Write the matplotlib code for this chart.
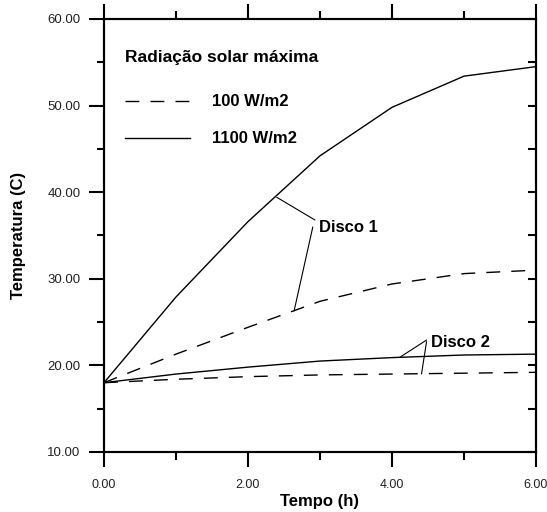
import matplotlib
matplotlib.use("Agg")
import matplotlib.pyplot as plt
from matplotlib.ticker import MultipleLocator, FormatStrFormatter

# ==========================
# Data
# ==========================
tempo = [0, 1, 2, 3, 4, 5, 6]
disco1_1100 = [18.0, 27.9, 36.6, 44.2, 49.8, 53.4, 54.5]
disco1_100 = [18.0, 21.3, 24.4, 27.4, 29.4, 30.6, 31.0]
disco2_1100 = [18.0, 19.0, 19.8, 20.5, 20.9, 21.2, 21.3]
disco2_100 = [18.0, 18.4, 18.7, 18.9, 19.0, 19.1, 19.2]

legend_title = "Radiação solar máxima"
legend_labels = ["100 W/m2", "1100 W/m2"]

plt.rcParams['font.family'] = ['Liberation Sans', 'DejaVu Sans']

# ==========================
# Figure
# ==========================
fig = plt.figure(figsize=(5.47, 5.12), dpi=100, facecolor="white")
ax = fig.add_axes([0.1901, 0.1172, 0.7898, 0.8457])

dash = (0, (10, 8))
l100, = ax.plot(tempo, disco1_100, color="black", lw=1.0, linestyle=dash)
l1100, = ax.plot(tempo, disco1_1100, color="black", lw=1.0)
ax.plot(tempo, disco2_100, color="black", lw=1.0, linestyle=dash)
ax.plot(tempo, disco2_1100, color="black", lw=1.0)

ax.set_xlim(0, 6)
ax.set_ylim(10, 60)

# ticks
ax.xaxis.set_major_locator(MultipleLocator(2))
ax.xaxis.set_minor_locator(MultipleLocator(1))
ax.yaxis.set_major_locator(MultipleLocator(10))
ax.yaxis.set_minor_locator(MultipleLocator(5))
ax.xaxis.set_major_formatter(FormatStrFormatter("%.2f"))
ax.yaxis.set_major_formatter(FormatStrFormatter("%.2f"))

ax.tick_params(axis="x", which="both", direction="out", top=True, bottom=True,
               width=1.5, colors="black", labelcolor="#222222", labelsize=9)
ax.tick_params(axis="x", which="major", length=11, pad=8.5)
ax.tick_params(axis="x", which="minor", length=5.5)
ax.tick_params(axis="y", which="both", direction="out", left=True, right=False,
               width=1.5, colors="black", labelcolor="#222222", labelsize=9.5)
ax.tick_params(axis="y", which="major", length=11, pad=6)
ax.tick_params(axis="y", which="minor", length=5)

for sp in ax.spines.values():
    sp.set_linewidth(1.5)

# right axis: inward ticks every 5
ax_r = ax.twinx()
ax_r.set_ylim(10, 60)
ax_r.yaxis.set_major_locator(MultipleLocator(5))
ax_r.tick_params(axis="y", direction="in", length=6, width=1.5, labelright=False)
for sp in ax_r.spines.values():
    sp.set_linewidth(1.5)

ax.set_xlabel("Tempo (h)", fontsize=12, fontweight="bold", labelpad=2)
ax.set_ylabel("Temperatura (C)", fontsize=12, fontweight="bold", labelpad=15.5)

# ==========================
# Legend
# ==========================
ax.text(0.0486, 0.911, legend_title, transform=ax.transAxes,
        fontsize=12.5, fontweight="bold", ha="left", va="center")
ax.legend([l100, l1100], legend_labels, loc="upper left",
          bbox_to_anchor=(0.0486, 0.826), frameon=False, borderpad=0,
          borderaxespad=0, handlelength=3.9, handletextpad=1.35,
          labelspacing=1.32, prop={"size": 12, "weight": "bold"})

# ==========================
# Annotations
# ==========================
lead = dict(arrowstyle="-", color="black", lw=0.8, shrinkA=0, shrinkB=0)
ax.text(2.99, 35.87, "Disco 1", fontsize=12, fontweight="bold",
        ha="left", va="center")
ax.annotate("", xy=(2.40, 39.41), xytext=(2.93, 36.79), arrowprops=lead)
ax.annotate("", xy=(2.64, 26.28), xytext=(2.90, 35.98), arrowprops=lead)

ax.text(4.54, 22.62, "Disco 2", fontsize=12, fontweight="bold",
        ha="left", va="center")
ax.annotate("", xy=(4.11, 20.94), xytext=(4.48, 22.93), arrowprops=lead)
ax.annotate("", xy=(4.41, 19.02), xytext=(4.48, 22.74), arrowprops=lead)

plt.savefig("out.png", dpi=100, facecolor="white")
